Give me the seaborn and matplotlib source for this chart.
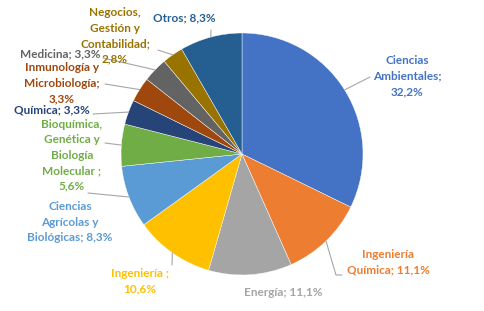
import numpy as np
import matplotlib.pyplot as plt
import seaborn as sns

categories = ["Ciencias\nAmbientales;\n32,2%", "Ingeniería\nQuímica; 11,1%", "Energía; 11,1%",
              "Ingeniería ;\n10,6%", "Ciencias\nAgrícolas y\nBiológicas; 8,3%",
              "Bioquímica,\nGenética y\nBiología\nMolecular ;\n5,6%", "Química; 3,3%",
              "Inmunología y\nMicrobiología;\n3,3%", "Medicina; 3,3%",
              "Negocios,\nGestión y\nContabilidad;\n2,8%", "Otros; 8,3%"]
values = [32.2, 11.1, 11.1, 10.6, 8.3, 5.6, 3.3, 3.3, 3.3, 2.8, 8.3]
colors = ["#4472C4", "#ED7D31", "#A5A5A5", "#FFC000", "#5B9BD5", "#70AD47",
          "#264478", "#9E480E", "#636363", "#997300", "#255E91"]

# label centres and leader-line ends (pixel-like coords, pie centre at 0,0)
label_xy = [(165, 78), (146, -108), (41, -138), (-102, -127), (-172, -68),
            (-170, -1), (-190, 44), (-180, 71), (-182, 100), (-127, 118), (-58, 136)]
line_end = [(128, 77), (94, -121), None, (-70, -111), (-154, -39),
            (-137, 11), (-149, 40), (-137, 70), (-139, 96), (-84, 104), (-31, 124)]

sns.set_theme(style="white")
plt.rcParams['font.family'] = ['Lato', 'DejaVu Sans']

fig = plt.figure(figsize=(4.84, 3.11), dpi=100)
ax = fig.add_axes([0, 0, 1, 1])
pal = sns.color_palette(colors)
wedges, _ = ax.pie(values, colors=pal, startangle=90, counterclock=False, radius=121,
                   wedgeprops=dict(edgecolor="white", linewidth=0.3))
ax.set_xlim(-242, 242)
ax.set_ylim(-157, 154)
ax.set_aspect("equal")
ax.axis("off")

r = 121
for w, lab, c, pos, end in zip(wedges, categories, colors, label_xy, line_end):
    mid = np.deg2rad((w.theta1 + w.theta2) / 2)
    if end is not None:
        sx, sy = r * np.cos(mid), r * np.sin(mid)
        if lab.startswith("Ingeniería\nQuímica"):
            ax.plot([sx, end[0], end[0] + 6], [sy, end[1], end[1]], color="#A6A6A6", lw=0.8)
        else:
            ax.plot([sx, end[0]], [sy, end[1]], color="#A6A6A6", lw=0.8)
    ax.text(pos[0], pos[1], lab, color=c, fontsize=8.5, fontweight="bold",
            ha="center", va="center", linespacing=1.5)

fig.savefig("out.png", dpi=100)
